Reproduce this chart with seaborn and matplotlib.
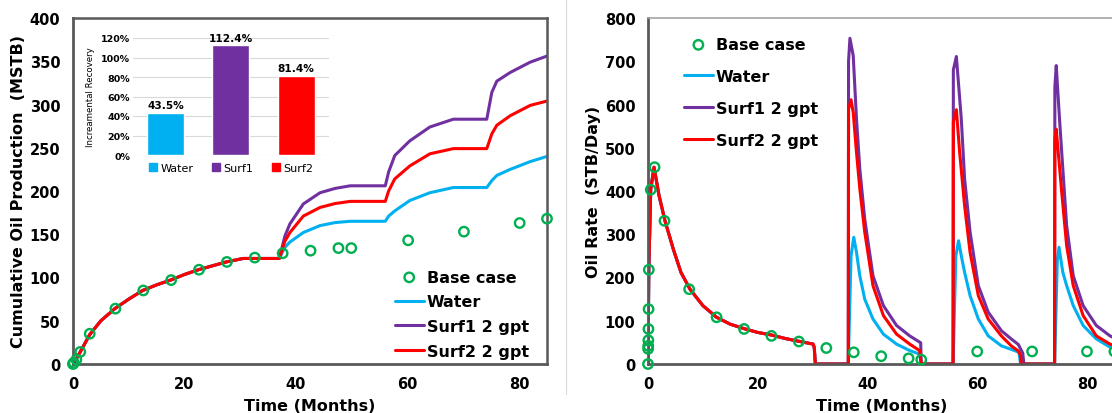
import matplotlib
matplotlib.use("Agg")
import matplotlib.pyplot as plt
import pandas as pd
import seaborn as sns
from matplotlib.lines import Line2D
from matplotlib.ticker import PercentFormatter, MultipleLocator

# ---------------- data ----------------
case_names = ["Water", "Surf1 2 gpt", "Surf2 2 gpt"]
case_colors = ["#00b0f0", "#7030a0", "#ff0000"]
base_color = "#00b050"

# Cumulative oil production (MSTB): primary depletion shared by every case
cum_primary_t = [0, 0.5, 1.3, 3.0, 5.0, 7.5, 10.0, 12.5, 15.0, 17.5, 20.0, 22.5, 25.0, 27.5, 30.5]
cum_primary = [0, 5, 14, 34, 50, 64, 75, 85, 91.5, 97, 103.5, 109, 113.5, 118, 122]

# Cumulative after the first injection cycle starts
cum_post_t = [37.0, 38.0, 38.9, 41.3, 44.3, 47.0, 49.7, 56.0, 56.6, 57.7, 60.4, 64.0,
              68.2, 74.2, 75.1, 76.0, 78.4, 82.0, 85.0]
cum_water = [122, 135, 141, 152, 160, 163.5, 165, 165, 171, 177, 189, 198,
             204, 204, 212, 218, 225, 234, 240]
cum_surf1 = [122, 148, 162, 185, 198, 203, 206, 206, 222, 241, 258, 274,
             283, 283, 314, 327, 337, 349, 356]
cum_surf2 = [122, 142, 152, 171, 181, 185.5, 188, 188, 200, 214, 229, 243,
             249, 249, 266, 276, 287, 299, 304]

base_cum_t = [0, 0.05, 0.15, 0.6, 1.3, 3.0, 7.6, 12.6, 17.6, 22.6, 27.6, 32.6,
              37.6, 42.6, 47.6, 49.9, 60.1, 70.1, 80.1, 85.0]
base_cum = [0, 0.5, 1.5, 5, 14, 35, 64, 85, 97, 109, 118, 123,
            128, 131, 134, 134, 143, 153, 163, 168]

# Oil rate (STB/Day): primary depletion shared by every case
rate_primary_t = [0, 0.15, 0.5, 1.1, 2.0, 3.1, 4.6, 6.0, 7.65, 10.0, 12.5, 15.0,
                  17.7, 20.0, 22.5, 25.0, 27.7, 30.1, 30.3, 30.5, 36.5]
rate_primary = [0, 220, 405, 455, 390, 331, 266, 212, 173, 135, 108, 92,
                81, 73, 67, 59, 52, 46, 38, 0, 0]

rate_water_t = [37.0, 37.5, 38.0, 38.6, 39.5, 41.0, 42.9, 45.3, 47.7, 49.5, 49.8,
                55.6, 56.1, 56.6, 57.1, 57.7, 58.7, 60.2, 62.0, 64.4, 66.8, 67.6, 67.9,
                74.1, 74.6, 74.9, 75.6, 76.3, 77.5, 79.3, 81.7, 84.2, 85.0]
rate_water = [250, 293, 258, 204, 150, 104, 69, 46, 31, 23, 0,
              0, 250, 285, 250, 212, 158, 104, 65, 42, 31, 27, 0,
              0, 240, 270, 212, 181, 135, 89, 58, 39, 35]

rate_surf1_t = [36.55, 36.8, 37.4, 38.0, 38.6, 39.5, 41.0, 42.9, 45.3, 47.7, 49.7, 49.8,
                55.6, 55.65, 56.2, 57.1, 57.7, 58.7, 60.2, 62.0, 64.4, 66.2, 67.5, 68.3, 68.5,
                74.1, 74.15, 74.4, 75.0, 75.4, 76.3, 77.5, 79.3, 81.7, 84.2, 85.0]
rate_surf1 = [700, 753, 713, 566, 451, 335, 204, 135, 89, 65, 49, 0,
              0, 680, 711, 566, 428, 305, 181, 120, 77, 58, 45, 25, 0,
              0, 640, 690, 566, 489, 320, 204, 135, 89, 65, 60]

rate_surf2_t = [36.55, 37.0, 37.4, 38.0, 38.6, 39.5, 41.0, 42.9, 45.3, 47.7, 49.5, 49.8,
                55.6, 55.65, 56.2, 56.8, 57.7, 58.7, 60.2, 62.0, 64.4, 66.2, 67.5, 67.9, 68.0,
                74.1, 74.15, 74.4, 75.4, 76.3, 77.5, 79.3, 81.7, 84.2, 85.0]
rate_surf2 = [590, 611, 582, 489, 405, 305, 181, 112, 69, 46, 31, 0,
              0, 560, 588, 489, 366, 258, 158, 104, 65, 42, 30, 20, 0,
              0, 520, 543, 397, 273, 181, 112, 65, 46, 42]

base_rate_t = [0, 0.02, 0.04, 0.06, 0.08, 0.1, 0.15, 0.5, 1.2, 3.0, 7.5, 12.5, 17.5,
               22.5, 27.5, 32.5, 37.5, 42.5, 47.5, 49.8, 60.0, 70.0, 80.0, 85.0]
base_rate = [0, 35, 42, 55, 81, 127, 218, 403, 455, 331, 173, 108, 81,
             65, 52, 37, 27, 18, 13, 10, 29, 29, 29, 29]

# Incremental recovery (%)
recovery_cases = ["Water", "Surf1", "Surf2"]
recovery_pct = [43.5, 112.4, 81.4]

# ---------------- tidy tables ----------------
cum_frames = []
for name, post in zip(case_names, [cum_water, cum_surf1, cum_surf2]):
    cum_frames.append(pd.DataFrame({"t": cum_primary_t + cum_post_t,
                                    "v": cum_primary + post, "case": name}))
cum_df = pd.concat(cum_frames, ignore_index=True)

rate_frames = []
for name, tt, vv in zip(case_names,
                        [rate_water_t, rate_surf1_t, rate_surf2_t],
                        [rate_water, rate_surf1, rate_surf2]):
    rate_frames.append(pd.DataFrame({"t": rate_primary_t + tt,
                                     "v": rate_primary + vv, "case": name}))
rate_df = pd.concat(rate_frames, ignore_index=True)

# ---------------- style ----------------
sns.set_style("white")
plt.rcParams["font.family"] = ["DejaVu Sans"]
plt.rcParams["font.weight"] = "bold"
plt.rcParams["text.color"] = "black"
plt.rcParams["axes.labelcolor"] = "black"

W, H = 1112, 414
fig = plt.figure(figsize=(W / 100, H / 100), dpi=100)


def fx(px):
    return px / W


def fy(py):
    return 1 - py / H


ax1 = fig.add_axes([fx(73), fy(365), fx(547) - fx(73), fy(19) - fy(365)])
ax2 = fig.add_axes([fx(648), fy(365), fx(1114.4) - fx(648), fy(19) - fy(365)])

# panel divider
fig.add_artist(Line2D([fx(566), fx(566)], [fy(395), 1.0], color="#d9d9d9", lw=0.8))

palette = dict(zip(case_names, case_colors))
LW = 2.2
MS = 46


def style_axes(ax, ymax, ystep, ylabel):
    ax.set_xlim(0, 85)
    ax.set_ylim(0, ymax)
    ax.xaxis.set_major_locator(MultipleLocator(20))
    ax.yaxis.set_major_locator(MultipleLocator(ystep))
    ax.tick_params(axis="both", length=0, pad=9, labelsize=10.5, labelcolor="black")
    for lab in ax.get_xticklabels() + ax.get_yticklabels():
        lab.set_fontweight("bold")
    ax.set_xlabel("Time (Months)", fontsize=11.5, fontweight="bold", labelpad=5)
    ax.set_ylabel(ylabel, fontsize=11.5, fontweight="bold", labelpad=3)
    for s in ["left", "bottom"]:
        ax.spines[s].set_color("#595959")
        ax.spines[s].set_linewidth(2)


def add_legend(ax, anchor, spacing):
    lines = ax.get_lines()[:3]
    pts = ax.collections[-1]
    leg = ax.legend([pts] + lines, ["Base case"] + case_names, loc="upper left",
                    bbox_to_anchor=anchor, frameon=False,
                    prop={"weight": "bold", "size": 11.5}, handlelength=1.8,
                    handletextpad=0.2, labelspacing=spacing, borderpad=0,
                    borderaxespad=0)
    for t in leg.get_texts():
        t.set_color("black")


def base_points(ax, tt, vv):
    sns.scatterplot(x=tt, y=vv, marker="o", s=MS, facecolor="none",
                    edgecolor=base_color, linewidth=1.7, zorder=5, clip_on=False, ax=ax)


# left panel: cumulative production
sns.lineplot(data=cum_df, x="t", y="v", hue="case", hue_order=case_names,
             palette=palette, estimator=None, sort=False, lw=LW, legend=False, ax=ax1)
base_points(ax1, base_cum_t, base_cum)
style_axes(ax1, 400, 50, "Cumulative Oil Production  (MSTB)")
for s in ["top", "right"]:
    ax1.spines[s].set_color("#595959")
    ax1.spines[s].set_linewidth(1.8)
add_legend(ax1, (0.679, 0.273), 0.61)

# right panel: oil rate
sns.lineplot(data=rate_df, x="t", y="v", hue="case", hue_order=case_names,
             palette=palette, estimator=None, sort=False, lw=LW, legend=False, ax=ax2)
base_points(ax2, base_rate_t, base_rate)
style_axes(ax2, 800, 100, "Oil Rate  (STB/Day)")
ax2.spines["top"].set_color("#a6a6a6")
ax2.spines["top"].set_linewidth(1.2)
ax2.spines["right"].set_visible(False)
add_legend(ax2, (0.0772, 0.945), 1.06)

# inset: incremental recovery
bar_colors = dict(zip(recovery_cases, case_colors))
axi = fig.add_axes([fx(132.75), fy(156), fx(328.75) - fx(132.75), fy(39) - fy(156)])
sns.barplot(x=recovery_cases, y=recovery_pct, hue=recovery_cases, palette=bar_colors,
            width=0.565, legend=False, saturation=1, ax=axi)
axi.set_ylim(0, 120)
axi.yaxis.set_major_locator(MultipleLocator(20))
axi.yaxis.set_major_formatter(PercentFormatter(100, decimals=0))
axi.set_xticks([])
axi.set_xlabel("")
axi.set_facecolor("none")
axi.yaxis.grid(True, color="#d9d9d9", lw=0.8)
axi.set_axisbelow(True)
for s in axi.spines.values():
    s.set_visible(False)
axi.tick_params(axis="y", length=0, pad=2, labelsize=6.8, labelcolor="black")
for lab in axi.get_yticklabels():
    lab.set_fontweight("bold")
axi.set_ylabel("Increamental Recovery", fontsize=6.2, fontweight="normal", labelpad=4)
for cont, val in zip(axi.containers, recovery_pct):
    axi.bar_label(cont, labels=[f"{val:.1f}%"], padding=2, fontsize=7.6,
                  fontweight="bold", color="black")
sq = [Line2D([], [], ls="none", marker="s", ms=6, color=c) for c in case_colors]
ileg = axi.legend(sq, recovery_cases, loc="upper center", bbox_to_anchor=(0.5, -0.07),
                  ncol=3, frameon=False, prop={"weight": "normal", "size": 8},
                  handlelength=0.8, handletextpad=0.3, columnspacing=1.6,
                  borderpad=0, borderaxespad=0)
for t in ileg.get_texts():
    t.set_color("black")

fig.savefig("out.png", dpi=100)
